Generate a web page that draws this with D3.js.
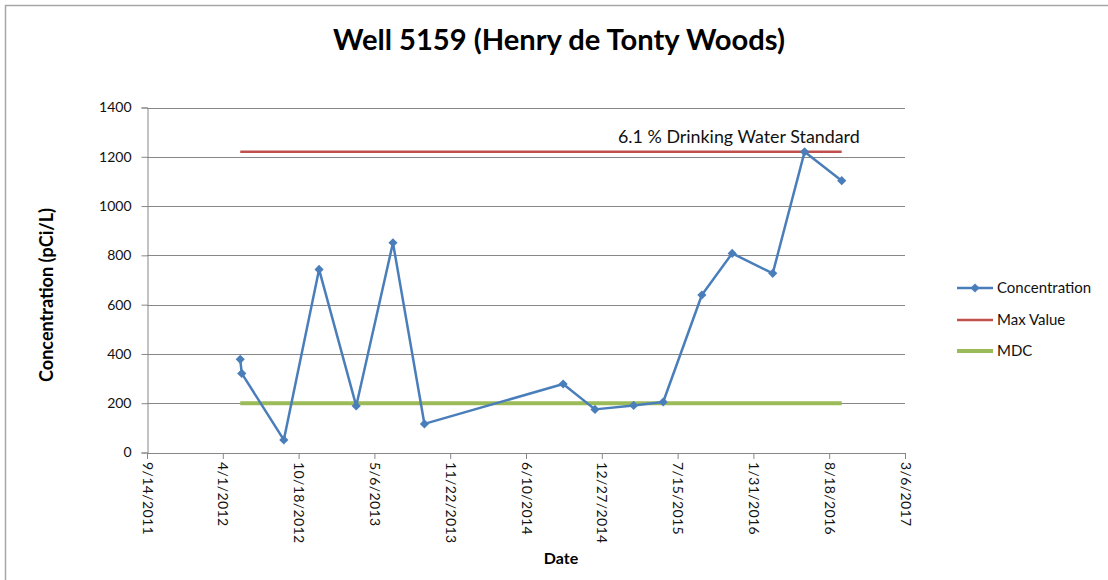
<!DOCTYPE html>
<html><head><meta charset="utf-8">
<script src="https://cdn.jsdelivr.net/npm/d3@7"></script>
<style>
html,body{margin:0;padding:0;background:#fff;}
svg{display:block;font-family:Lato,"Open Sans",sans-serif;}
</style></head>
<body>
<svg id="chart" width="1108" height="580"></svg>
<script>
// ---- data ----
const sampleDates = ["2012-05-17","2012-05-21","2012-09-09","2012-12-11","2013-03-19","2013-06-24","2013-09-15",
  "2014-09-16","2014-12-09","2015-03-21","2015-06-07","2015-09-17","2015-12-06","2016-03-22","2016-06-14","2016-09-20"];
const concentration = [378,321,51,743,189,851,116,278,175,191,205,639,808,727,1220,1103];
const maxValue = 1220;
const mdcValue = 200;
const xTickLabels = ["9/14/2011","4/1/2012","10/18/2012","5/6/2013","11/22/2013","6/10/2014","12/27/2014","7/15/2015","1/31/2016","8/18/2016","3/6/2017"];
const yTickValues = [0,200,400,600,800,1000,1200,1400];
const seriesNames = ["Concentration","Max Value","MDC"];
const titleText = "Well 5159 (Henry de Tonty Woods)";
const annotationText = "6.1 % Drinking Water Standard";

// ---- setup ----
const parseISO = d3.utcParse("%Y-%m-%d");
const parseTick = d3.utcParse("%-m/%-d/%Y");
const dates = sampleDates.map(parseISO);
const xTicks = xTickLabels.map(parseTick);
const svg = d3.select("#chart");
const colors = {blue:"#4A7EBB", red:"#C0504D", green:"#9BBB59", grid:"#878787", text:"#111"};
const L = 147, R = 905, T = 107.5, B = 452.5;

const x = d3.scaleUtc().domain([xTicks[0], xTicks[xTicks.length-1]]).range([L, R]);
const y = d3.scaleLinear().domain([0, 1400]).range([B, T]);

// outer border
svg.append("rect").attr("x",5.5).attr("y",5.5).attr("width",1200).attr("height",700)
  .attr("fill","none").attr("stroke","#a6a6a6").attr("stroke-width",1.5);

// gridlines
svg.append("g").selectAll("line").data(yTickValues.filter(v=>v>0)).join("line")
  .attr("x1",L).attr("x2",R).attr("y1",d=>Math.round(y(d))+0.5).attr("y2",d=>Math.round(y(d))+0.5)
  .attr("stroke",colors.grid).attr("stroke-width",1);

// helper to fit text to width
function fit(sel, target){
  let s = +sel.attr("font-size");
  const w = sel.node().getComputedTextLength();
  if (w>0) sel.attr("font-size", (s*target/w).toFixed(2));
}

// y axis
const yAxis = svg.append("g").attr("transform",`translate(${L+0.5},0)`)
  .call(d3.axisLeft(y).tickValues(yTickValues).tickSize(6).tickPadding(10).tickFormat(d3.format("d")));
yAxis.selectAll("path,line").attr("stroke",colors.grid);
yAxis.selectAll("text").attr("font-size",14).attr("fill",colors.text).attr("font-family","Lato");

// x axis
const xAxis = svg.append("g").attr("transform",`translate(0,${B+0.5})`)
  .call(d3.axisBottom(x).tickValues(xTicks).tickSize(6).tickFormat((d,i)=>xTickLabels[i]));
xAxis.selectAll("path,line").attr("stroke",colors.grid);
xAxis.selectAll("text").attr("font-size",14).attr("fill",colors.text).attr("font-family","Lato")
  .attr("text-anchor","start").attr("transform","translate(0,9) rotate(90)")
  .attr("x",0).attr("y",0).attr("dy","0.35em").attr("dx",0)
  .attr("letter-spacing","0.4px");

// Max value line and MDC line spanning first to last sample
const d0 = dates[0], d1 = dates[dates.length-1];
svg.append("line").attr("x1",x(d0)).attr("x2",x(d1)).attr("y1",y(maxValue)).attr("y2",y(maxValue))
  .attr("stroke",colors.red).attr("stroke-width",2.5);
svg.append("line").attr("x1",x(d0)).attr("x2",x(d1)).attr("y1",y(mdcValue)).attr("y2",y(mdcValue))
  .attr("stroke",colors.green).attr("stroke-width",4);

// concentration series
const pts = dates.map((d,i)=>({d, v:concentration[i]}));
svg.append("path").datum(pts)
  .attr("d", d3.line().x(p=>x(p.d)).y(p=>y(p.v)))
  .attr("fill","none").attr("stroke",colors.blue).attr("stroke-width",2.5).attr("stroke-linejoin","round");
const diamond = d3.symbol().type(d3.symbolSquare).size(42);
svg.append("g").selectAll("path").data(pts).join("path")
  .attr("d",diamond).attr("transform",p=>`translate(${x(p.d)},${y(p.v)}) rotate(45)`)
  .attr("fill",colors.blue);

// annotation
const ann = svg.append("text").attr("x",618).attr("y",143).attr("font-size",15)
  .attr("fill",colors.text).text(annotationText);
fit(ann, 242);

// title
const title = svg.append("text").attr("x",559).attr("y",50).attr("text-anchor","middle")
  .attr("font-size",24).attr("font-weight","bold").attr("fill","#000").text(titleText);
fit(title, 452);

// axis titles
const yTitle = svg.append("text").attr("transform","translate(53,295) rotate(-90)").attr("text-anchor","middle")
  .attr("font-size",15).attr("font-weight","bold").attr("fill","#000").text("Concentration (pCi/L)");
fit(yTitle, 174);
svg.append("text").attr("x",561).attr("y",564).attr("text-anchor","middle")
  .attr("font-size",16).attr("font-weight","bold").attr("fill","#000").text("Date");

// legend
const legendY = [288, 320, 351];
const legend = svg.append("g");
seriesNames.forEach((name,i)=>{
  const c = [colors.blue, colors.red, colors.green][i];
  const sw = [2.5, 2.5, 4][i];
  legend.append("line").attr("x1",957).attr("x2",993).attr("y1",legendY[i]).attr("y2",legendY[i])
    .attr("stroke",c).attr("stroke-width",sw);
  if(i===0) legend.append("path").attr("d",diamond).attr("transform",`translate(975,${legendY[i]}) rotate(45)`).attr("fill",c);
  legend.append("text").attr("x",997).attr("y",legendY[i]).attr("dy","0.35em")
    .attr("font-size",15).attr("fill",colors.text).text(name);
});
</script>
</body></html>
